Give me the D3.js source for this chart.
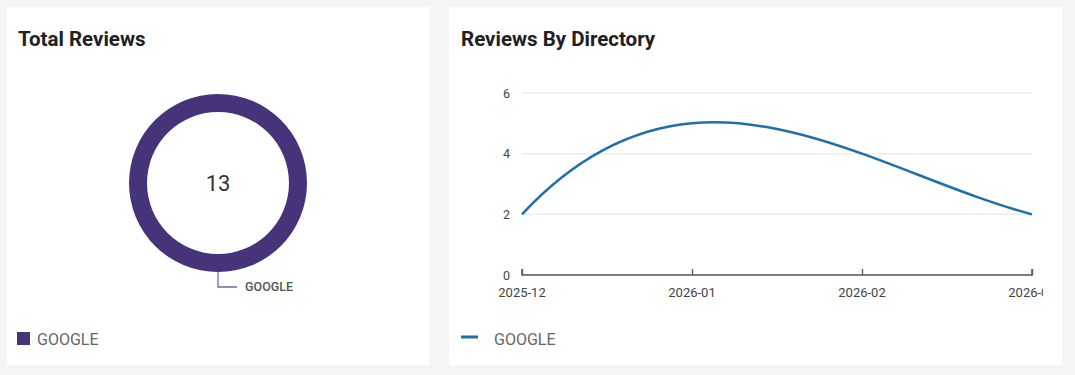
<!DOCTYPE html>
<html><head><meta charset="utf-8">
<script src="https://cdn.jsdelivr.net/npm/d3@7"></script>
<style>
html,body{margin:0;padding:0;background:#f5f5f7;width:1075px;height:375px;overflow:hidden;font-family:Roboto,"Noto Sans",sans-serif;}
</style></head><body>
<svg id="c" width="1075" height="375"></svg>
<script>
const pieLabels = ["GOOGLE"];
const pieValues = [13];
const totalLabel = "13";
const months = ["2025-12","2026-01","2026-02","2026-03"];
const googleSeries = [2,5,4,2];
const yTicks = [0,2,4,6];
const seriesName = "GOOGLE";

// not-a-knot cubic spline curve for d3.line
function solve(A,b){
  const n=b.length;
  for(let i=0;i<n;i++){
    let p=i; for(let r=i+1;r<n;r++) if(Math.abs(A[r][i])>Math.abs(A[p][i])) p=r;
    [A[i],A[p]]=[A[p],A[i]]; [b[i],b[p]]=[b[p],b[i]];
    for(let r=i+1;r<n;r++){const f=A[r][i]/A[i][i]; for(let c=i;c<n;c++) A[r][c]-=f*A[i][c]; b[r]-=f*b[i];}
  }
  const x=new Array(n).fill(0);
  for(let i=n-1;i>=0;i--){let s=b[i]; for(let c=i+1;c<n;c++) s-=A[i][c]*x[c]; x[i]=s/A[i][i];}
  return x;
}
function SplineNAK(context){this._context=context;}
SplineNAK.prototype={
  areaStart(){this._line=0;}, areaEnd(){this._line=NaN;},
  lineStart(){this._x=[];this._y=[];},
  point(x,y){this._x.push(+x);this._y.push(+y);},
  lineEnd(){
    const X=this._x,Y=this._y,n=X.length,ctx=this._context;
    if(n){ this._line?ctx.lineTo(X[0],Y[0]):ctx.moveTo(X[0],Y[0]); }
    if(n===2) ctx.lineTo(X[1],Y[1]);
    if(n>2){
      const h=[]; for(let i=0;i<n-1;i++) h.push(X[i+1]-X[i]);
      const A=[],b=[];
      for(let i=0;i<n;i++){A.push(new Array(n).fill(0)); b.push(0);}
      for(let i=1;i<n-1;i++){
        A[i][i-1]=h[i-1]; A[i][i]=2*(h[i-1]+h[i]); A[i][i+1]=h[i];
        b[i]=6*((Y[i+1]-Y[i])/h[i]-(Y[i]-Y[i-1])/h[i-1]);
      }
      if(n>=4){
        A[0][0]=-h[1]; A[0][1]=h[0]+h[1]; A[0][2]=-h[0];
        A[n-1][n-3]=-h[n-2]; A[n-1][n-2]=h[n-3]+h[n-2]; A[n-1][n-1]=-h[n-3];
      } else { A[0][0]=1; A[n-1][n-1]=1; }
      const M=solve(A,b);
      for(let i=0;i<n-1;i++){
        const hi=h[i], s=(Y[i+1]-Y[i])/hi;
        const d0=s-hi*(2*M[i]+M[i+1])/6, d1=s+hi*(M[i]+2*M[i+1])/6;
        ctx.bezierCurveTo(X[i]+hi/3,Y[i]+hi/3*d0,X[i+1]-hi/3,Y[i+1]-hi/3*d1,X[i+1],Y[i+1]);
      }
    }
    if(this._line||(this._line!==0&&n===1)) ctx.closePath();
    this._line=1-this._line;
  }
};
const curveSplineNAK = ctx => new SplineNAK(ctx);

const svg = d3.select("#c");
// cards
svg.append("rect").attr("x",7).attr("y",7).attr("width",422).attr("height",358).attr("fill","#fff");
svg.append("rect").attr("x",449).attr("y",7).attr("width",613).attr("height",358).attr("fill","#fff");

svg.append("text").attr("x",18).attr("y",46).text("Total Reviews")
  .attr("font-size",20.5).attr("font-weight",700).attr("fill","#212121");
svg.append("text").attr("x",461).attr("y",46).text("Reviews By Directory")
  .attr("font-size",20.5).attr("font-weight",700).attr("fill","#212121");

// donut
const purple = "#47337a";
const cx=218, cy=183;
const pie = d3.pie().sort(null)(pieValues);
const arc = d3.arc().innerRadius(71).outerRadius(89);
const g = svg.append("g").attr("transform",`translate(${cx},${cy})`);
g.selectAll("path").data(pie).join("path").attr("d",arc).attr("fill",purple);
g.append("text").attr("text-anchor","middle").attr("dy","0.35em").attr("font-size",22)
  .attr("fill","#333").text(totalLabel);
// leader
svg.append("path").attr("d",`M${cx},${cy+89}V${cy+104}H${cx+19}`).attr("fill","none")
  .attr("stroke","#7a66a8").attr("stroke-width",1.3);
svg.append("text").attr("x",cx+27).attr("y",cy+104).attr("dy","0.35em").attr("font-size",12.5)
  .attr("font-weight",500).attr("fill","#555").text(pieLabels[0]);
// legend
svg.append("rect").attr("x",17).attr("y",332).attr("width",13).attr("height",13).attr("fill",purple);
svg.append("text").attr("x",37).attr("y",339).attr("dy","0.35em").attr("font-size",16)
  .attr("fill","#666").text(pieLabels[0]);

// line chart
const x0=522, x1=1032, yb=275, yt=93;
const xp = d3.scalePoint().domain(months).range([x0,x1]);
const y = d3.scaleLinear().domain([0,6]).range([yb,yt]);

const clip = svg.append("clipPath").attr("id","cl");
clip.append("rect").attr("x",449).attr("y",7).attr("width",594).attr("height",358);
const lc = svg.append("g").attr("clip-path","url(#cl)");

lc.append("g").selectAll("line").data(yTicks.filter(d=>d>0)).join("line")
  .attr("x1",x0).attr("x2",x1).attr("y1",d=>y(d)).attr("y2",d=>y(d))
  .attr("stroke","#ececec").attr("stroke-width",1.5);

const ya = lc.append("g").attr("transform",`translate(${x0-10},0)`)
  .call(d3.axisLeft(y).tickValues(yTicks).tickFormat(d3.format("d")).tickSize(0).tickPadding(2));
ya.select(".domain").remove();
ya.selectAll("text").attr("font-size",12.5).attr("fill","#444").attr("font-family","Roboto");

const xa = lc.append("g").attr("transform",`translate(0,${yb})`)
  .call(d3.axisTop(xp).tickSize(6).tickSizeOuter(6).tickFormat(()=>""));
xa.select(".domain").attr("stroke","#555").attr("stroke-width",1.5).attr("d",`M${x0},-6V0H${x1}V-6`);
xa.selectAll(".tick line").attr("stroke","#555").attr("stroke-width",1.3);
lc.append("g").selectAll("text").data(months).join("text")
  .attr("x",d=>xp(d)).attr("y",yb+17).attr("dy","0.35em").attr("text-anchor","middle")
  .attr("font-size",13).attr("fill","#444").text(d=>d);

const line = d3.line().x((d,i)=>xp(months[i])).y(d=>y(d)).curve(curveSplineNAK);
lc.append("path").datum(googleSeries).attr("d",line).attr("fill","none")
  .attr("stroke","#1f6fa8").attr("stroke-width",2.5);

svg.append("line").attr("x1",461).attr("x2",478).attr("y1",337).attr("y2",337)
  .attr("stroke","#1f6fa8").attr("stroke-width",3);
svg.append("text").attr("x",494).attr("y",339).attr("dy","0.35em").attr("font-size",16)
  .attr("fill","#666").text(seriesName);
</script></body></html>
